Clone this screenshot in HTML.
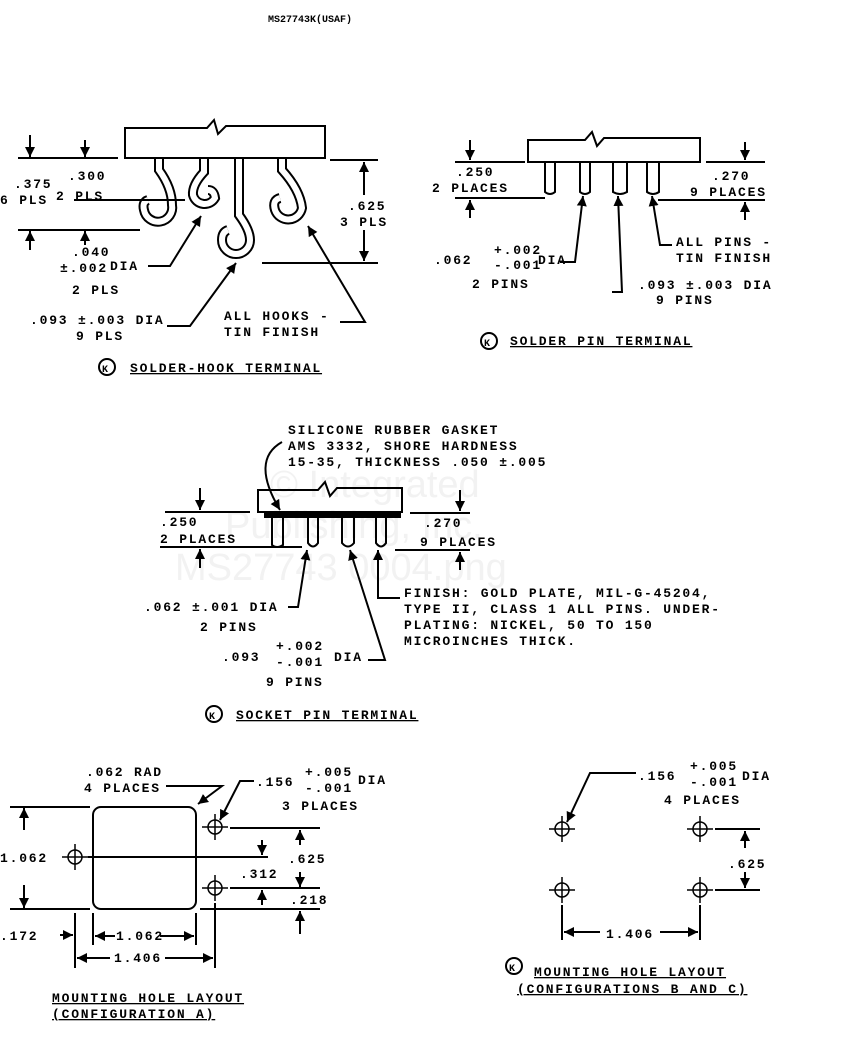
<!DOCTYPE html>
<html><head><style>
body{margin:0;background:#fff}
svg{display:block}
text{font-family:"Liberation Mono",monospace;font-weight:bold;font-size:13px;fill:#000;letter-spacing:1.8px}
.s{font-size:10px;letter-spacing:0}
.w{font-family:"Liberation Sans",sans-serif;font-weight:normal;font-size:38px;fill:#f2f2f2;letter-spacing:0}
</style></head><body>
<svg width="859" height="1052" viewBox="0 0 859 1052" stroke="#000" stroke-width="2" fill="none">
<defs><marker id="a" viewBox="0 0 10 10" refX="10" refY="5" markerWidth="5" markerHeight="6" orient="auto"><path d="M0,0L10,5L0,10z" fill="#000" stroke="none"/></marker></defs>
<g stroke="none"><text class="w" x="270" y="497">© Integrated</text><text class="w" x="225" y="538">Publishing, Inc.</text><text class="w" x="175" y="580">MS27743 0004.png</text></g>
<text class="s" x="268" y="22" stroke="none">MS27743K(USAF)</text>

<!-- solder hook -->
<g stroke-linecap="butt">
<path d="M159,158 V170 Q172,188 172,205 A14,14 0 0 1 144,210 Q142,202 148,200" stroke-width="10"/>
<path d="M204,158 V172 Q192,185 193,195 A12,12 0 0 0 215,198 Q214,190 208,190" stroke-width="10"/>
<path d="M239,158 V215 Q250,230 250,240 A14,14 0 0 1 222,240 Q222,232 228,230" stroke-width="10"/>
<path d="M282,158 V170 Q300,190 302,208 A14,14 0 0 1 275,210 Q272,200 280,198" stroke-width="10"/>
<g stroke="#fff" stroke-width="6">
<path d="M159,157 V170 Q172,188 172,205 A14,14 0 0 1 144,210 Q142,202 148,200"/>
<path d="M204,157 V172 Q192,185 193,195 A12,12 0 0 0 215,198 Q214,190 208,190"/>
<path d="M239,157 V215 Q250,230 250,240 A14,14 0 0 1 222,240 Q222,232 228,230"/>
<path d="M282,157 V170 Q300,190 302,208 A14,14 0 0 1 275,210 Q272,200 280,198"/>
</g></g>
<path d="M125,128 H207 L214,120 L218,134 L226,126 H325 V158 H125 Z" fill="#fff"/>
<path d="M18,158 H118 M74,200 H185 M18,230 H140 M330,160 H378 M262,263 H378"/>
<path d="M30,135 V157" marker-end="url(#a)"/><path d="M30,250 V231" marker-end="url(#a)"/>
<path d="M85,140 V157" marker-end="url(#a)"/><path d="M85,245 V231" marker-end="url(#a)"/>
<path d="M364,195 V162" marker-end="url(#a)"/><path d="M364,230 V261" marker-end="url(#a)"/>
<g stroke="none"><text x="14" y="188">.375</text><text x="0" y="204">6 PLS</text><text x="68" y="180">.300</text><text x="56" y="200">2 PLS</text>
<text x="348" y="210">.625</text><text x="340" y="226">3 PLS</text>
<text x="72" y="256">.040</text><text x="60" y="272">±.002</text><text x="110" y="270">DIA</text><text x="72" y="294">2 PLS</text>
<text x="30" y="324">.093 ±.003 DIA</text><text x="76" y="340">9 PLS</text>
<text x="224" y="320">ALL HOOKS -</text><text x="224" y="336">TIN FINISH</text>
<text x="130" y="372" text-decoration="underline">SOLDER-HOOK TERMINAL</text></g>
<circle cx="107" cy="367" r="8"/><text x="102" y="372" class="s" stroke="none">K</text>
<path d="M148,266 H170 L201,216" marker-end="url(#a)"/>
<path d="M167,326 H190 L236,263" marker-end="url(#a)"/>
<path d="M340,322 H365 L308,226" marker-end="url(#a)"/>

<!-- solder pin -->
<path d="M528,140 H585 L592,132 L597,146 L604,138 H700 V162 H528 Z"/>
<path d="M545,162 V192 Q550,196 555,192 V162 M580,162 V192 Q585,196 590,192 V162 M613,162 V192 Q620,196 627,192 V162 M647,162 V192 Q653,196 659,192 V162"/>
<path d="M455,162 H525 M455,198 H545 M706,162 H765 M658,200 H765"/>
<path d="M470,140 V160" marker-end="url(#a)"/><path d="M470,218 V200" marker-end="url(#a)"/>
<path d="M745,142 V160" marker-end="url(#a)"/><path d="M745,220 V202" marker-end="url(#a)"/>
<path d="M560,262 H575 L583,196" marker-end="url(#a)"/>
<path d="M612,292 H622 L618,196" marker-end="url(#a)"/>
<path d="M672,245 H660 L652,196" marker-end="url(#a)"/>
<g stroke="none"><text x="456" y="176">.250</text><text x="432" y="192">2 PLACES</text><text x="712" y="180">.270</text><text x="690" y="196">9 PLACES</text>
<text x="676" y="246">ALL PINS -</text><text x="676" y="262">TIN FINISH</text>
<text x="494" y="254">+.002</text><text x="434" y="264">.062</text><text x="494" y="269">-.001</text><text x="538" y="264">DIA</text><text x="472" y="288">2 PINS</text>
<text x="638" y="289">.093 ±.003 DIA</text><text x="656" y="304">9 PINS</text>
<text x="510" y="345" text-decoration="underline">SOLDER PIN TERMINAL</text></g>
<circle cx="489" cy="341" r="8"/><text x="484" y="346" class="s" stroke="none">K</text>

<!-- socket -->
<path d="M258,490 H318 L325,482 L330,496 L337,488 H402 V512 H258 Z"/>
<rect x="265" y="512" width="135" height="5" fill="#000"/>
<path d="M272,517 V545 Q277,549 283,545 V517 M308,517 V543 Q313,550 318,543 V517 M342,517 V543 Q348,550 354,543 V517 M376,517 V543 Q381,550 386,543 V517"/>
<path d="M165,512 H250 M160,547 H302 M410,513 H470 M395,550 H470"/>
<path d="M200,488 V510" marker-end="url(#a)"/><path d="M200,568 V549" marker-end="url(#a)"/>
<path d="M460,490 V511" marker-end="url(#a)"/><path d="M460,570 V552" marker-end="url(#a)"/>
<path d="M282,442 Q250,460 280,510" marker-end="url(#a)"/>
<path d="M288,607 H298 L307,550" marker-end="url(#a)"/>
<path d="M368,660 H385 L350,550" marker-end="url(#a)"/>
<path d="M400,598 H378 V550" marker-end="url(#a)"/>
<g stroke="none"><text x="288" y="434">SILICONE RUBBER GASKET</text><text x="288" y="450">AMS 3332, SHORE HARDNESS</text><text x="288" y="466">15-35, THICKNESS .050 ±.005</text>
<text x="160" y="526">.250</text><text x="160" y="543">2 PLACES</text><text x="424" y="527">.270</text><text x="420" y="546">9 PLACES</text>
<text x="144" y="611">.062 ±.001 DIA</text><text x="200" y="631">2 PINS</text>
<text x="276" y="650">+.002</text><text x="222" y="661">.093</text><text x="276" y="666">-.001</text><text x="334" y="661">DIA</text><text x="266" y="686">9 PINS</text>
<text x="404" y="597">FINISH: GOLD PLATE, MIL-G-45204,</text><text x="404" y="613">TYPE II, CLASS 1 ALL PINS. UNDER-</text><text x="404" y="629">PLATING: NICKEL, 50 TO 150</text><text x="404" y="645">MICROINCHES THICK.</text>
<text x="236" y="719" text-decoration="underline">SOCKET PIN TERMINAL</text></g>
<circle cx="214" cy="714" r="8"/><text x="209" y="719" class="s" stroke="none">K</text>

<!-- config A -->
<rect x="93" y="807" width="103" height="102" rx="8"/>
<g stroke-width="1.5"><circle cx="75" cy="857" r="7"/><path d="M62,857 H88 M75,844 V870"/>
<circle cx="215" cy="827" r="7"/><path d="M202,827 H228 M215,814 V840"/>
<circle cx="215" cy="888" r="7"/><path d="M202,888 H228 M215,875 V901"/></g>
<path d="M88,857 H268 M230,828 H320 M230,888 H320 M200,909 H320 M10,807 H90 M10,909 H90"/>
<path d="M75,913 V968 M93,913 V945 M196,913 V945 M215,903 V968"/>
<path d="M24,830 V808" marker-end="url(#a)"/><path d="M24,885 V908" marker-end="url(#a)"/>
<path d="M262,840 V855" marker-end="url(#a)"/><path d="M262,905 V890" marker-end="url(#a)"/>
<path d="M300,845 V830" marker-end="url(#a)"/><path d="M300,872 V887" marker-end="url(#a)"/>
<path d="M300,934 V911" marker-end="url(#a)"/>
<path d="M60,935 H73" marker-end="url(#a)"/>
<path d="M115,936 H95" marker-end="url(#a)"/><path d="M160,936 H194" marker-end="url(#a)"/>
<path d="M110,958 H77" marker-end="url(#a)"/><path d="M165,958 H213" marker-end="url(#a)"/>
<path d="M166,786 H222 L198,804" marker-end="url(#a)"/>
<path d="M254,781 H240 L220,820" marker-end="url(#a)"/>
<g stroke="none"><text x="86" y="776">.062 RAD</text><text x="84" y="792">4 PLACES</text>
<text x="256" y="786">.156</text><text x="305" y="776">+.005</text><text x="305" y="792">-.001</text><text x="358" y="784">DIA</text><text x="282" y="810">3 PLACES</text>
<text x="0" y="862">1.062</text><text x="288" y="863">.625</text><text x="240" y="878">.312</text><text x="290" y="904">.218</text>
<text x="0" y="940">.172</text><text x="116" y="940">1.062</text><text x="114" y="962">1.406</text>
<text x="52" y="1002" text-decoration="underline">MOUNTING HOLE LAYOUT</text><text x="52" y="1018" text-decoration="underline">(CONFIGURATION A)</text></g>

<!-- config B,C -->
<g stroke-width="1.5"><circle cx="562" cy="829" r="7"/><path d="M549,829 H575 M562,816 V842"/>
<circle cx="700" cy="829" r="7"/><path d="M687,829 H713 M700,816 V842"/>
<circle cx="562" cy="890" r="7"/><path d="M549,890 H575 M562,877 V903"/>
<circle cx="700" cy="890" r="7"/><path d="M687,890 H713 M700,877 V903"/></g>
<path d="M715,829 H760 M715,890 H760 M562,905 V940 M700,905 V940"/>
<path d="M745,848 V831" marker-end="url(#a)"/><path d="M745,872 V888" marker-end="url(#a)"/>
<path d="M600,932 H564" marker-end="url(#a)"/><path d="M660,932 H698" marker-end="url(#a)"/>
<path d="M636,773 H590 L567,822" marker-end="url(#a)"/>
<g stroke="none"><text x="638" y="780">.156</text><text x="690" y="770">+.005</text><text x="690" y="786">-.001</text><text x="742" y="780">DIA</text><text x="664" y="804">4 PLACES</text>
<text x="728" y="868">.625</text><text x="606" y="938">1.406</text>
<text x="534" y="976" text-decoration="underline">MOUNTING HOLE LAYOUT</text><text x="517" y="993" text-decoration="underline">(CONFIGURATIONS B AND C)</text></g>
<circle cx="514" cy="966" r="8"/><text x="509" y="971" class="s" stroke="none">K</text>
</svg>
</body></html>
